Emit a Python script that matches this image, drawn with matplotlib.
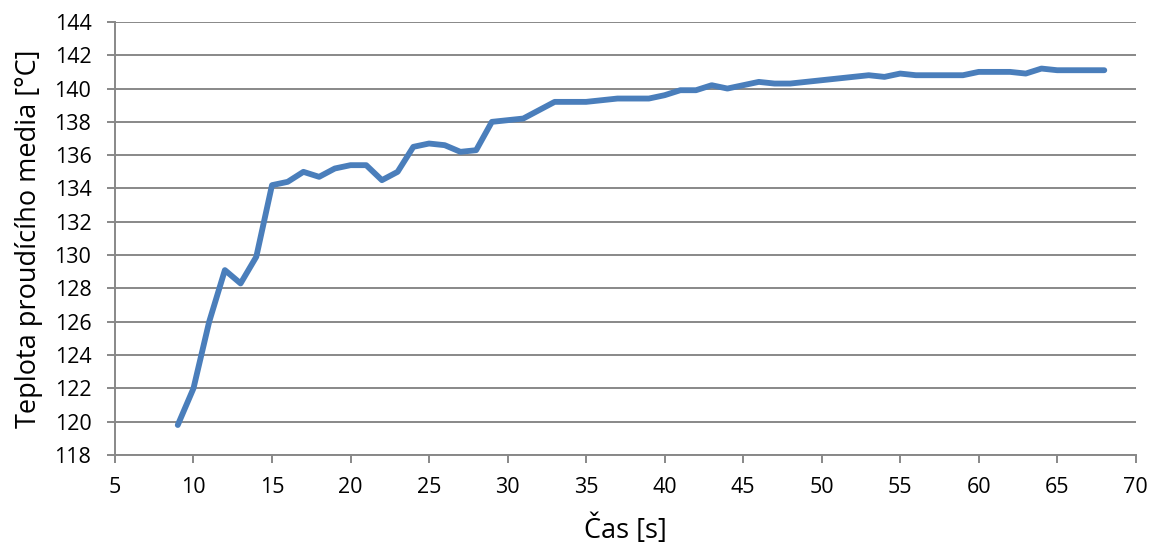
import matplotlib
matplotlib.use("Agg")
import matplotlib.pyplot as plt

time_s = list(range(9, 69))
temperature = [119.8, 122.0, 126.0, 129.1, 128.3, 129.9, 134.2, 134.4, 135.0, 134.7,
               135.2, 135.4, 135.4, 134.5, 135.0, 136.5, 136.7, 136.6, 136.2, 136.3,
               138.0, 138.1, 138.2, 138.7, 139.2, 139.2, 139.2, 139.3, 139.4, 139.4,
               139.4, 139.6, 139.9, 139.9, 140.2, 140.0, 140.2, 140.4, 140.3, 140.3,
               140.4, 140.5, 140.6, 140.7, 140.8, 140.7, 140.9, 140.8, 140.8, 140.8,
               140.8, 141.0, 141.0, 141.0, 140.9, 141.2, 141.1, 141.1, 141.1, 141.1]
x_ticks = list(range(5, 71, 5))
y_ticks = list(range(118, 145, 2))

plt.rcParams['font.family'] = ['Open Sans', 'DejaVu Sans']
fig = plt.figure(figsize=(11.53, 5.48), dpi=100)
ax = fig.add_axes([0.0997, 0.1697, 0.8853, 0.7903])
grid_c = '#888888'
ax.plot(time_s, temperature, color='#4A7EBB', lw=4.2, solid_joinstyle='round', solid_capstyle='round', zorder=3)
ax.set_xlim(5, 70)
ax.set_ylim(118, 144)
ax.set_xticks(x_ticks)
ax.set_yticks(y_ticks)
ax.yaxis.grid(True, color=grid_c, lw=1.4)
ax.set_axisbelow(True)
for s in ['top', 'right']:
    ax.spines[s].set_visible(False)
for s in ['left', 'bottom']:
    ax.spines[s].set_color(grid_c)
    ax.spines[s].set_linewidth(1.4)
ax.tick_params(axis='both', colors=grid_c, width=1.4, length=6, labelsize=15.5, labelcolor='black')
ax.tick_params(axis='x', pad=10)
ax.tick_params(axis='y', pad=11)
ax.set_xlabel('Čas [s]', fontsize=19.5, labelpad=12)
ax.set_ylabel('Teplota proudícího media [°C]', fontsize=19.5, labelpad=8)
fig.savefig('out.png', dpi=100)
